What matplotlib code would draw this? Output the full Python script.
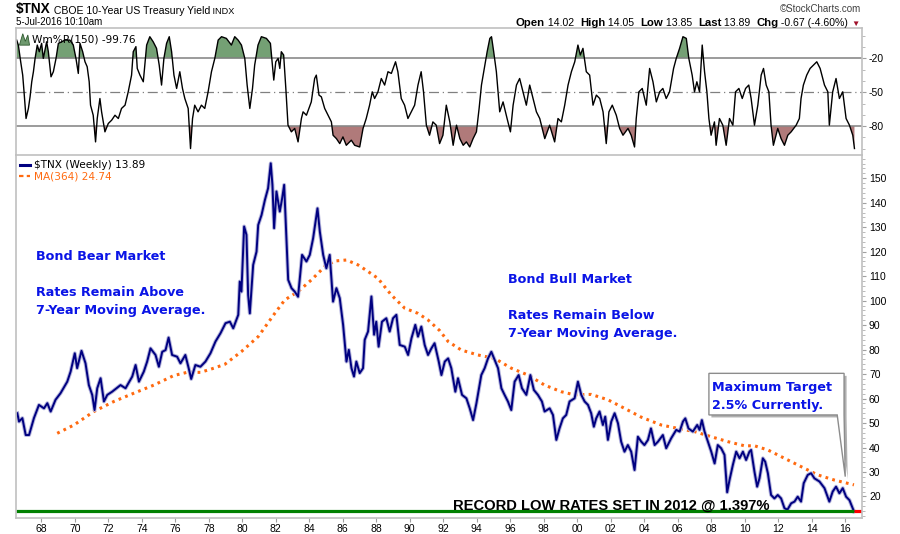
import matplotlib

matplotlib.use("Agg")
import matplotlib.pyplot as plt
import matplotlib.patheffects as pe
import matplotlib.transforms as mtransforms
import numpy as np
from matplotlib.patches import Polygon
from matplotlib.ticker import FixedLocator, MultipleLocator

# ---- data (year, value) ----
tnx_year = [
    1966.57, 1966.67, 1966.87, 1967.07, 1967.27, 1967.56, 1967.86, 1968.16, 1968.36, 1968.56,
    1968.85, 1969.15, 1969.55, 1969.75, 1970.00, 1970.14, 1970.40, 1970.64, 1970.84, 1971.04,
    1971.18, 1971.34, 1971.54, 1971.74, 1971.94, 1972.23, 1972.73, 1973.03, 1973.43, 1973.63,
    1973.83, 1974.12, 1974.32, 1974.52, 1974.82, 1975.02, 1975.22, 1975.42, 1975.60, 1975.81,
    1976.11, 1976.31, 1976.60, 1976.80, 1976.95, 1977.20, 1977.50, 1977.80, 1978.10, 1978.40,
    1978.70, 1979.00, 1979.26, 1979.46, 1979.76, 1979.85, 1979.95, 1980.11, 1980.25, 1980.35,
    1980.45, 1980.65, 1980.85, 1980.95, 1981.15, 1981.35, 1981.54, 1981.70, 1981.80, 1981.90,
    1982.04, 1982.24, 1982.38, 1982.50, 1982.64, 1982.74, 1982.94, 1983.13, 1983.33, 1983.57,
    1983.83, 1984.03, 1984.23, 1984.49, 1984.63, 1984.83, 1985.02, 1985.22, 1985.42, 1985.62,
    1985.82, 1986.02, 1986.22, 1986.36, 1986.52, 1986.67, 1986.81, 1987.01, 1987.21, 1987.31,
    1987.51, 1987.71, 1987.87, 1988.00, 1988.14, 1988.34, 1988.60, 1988.80, 1989.00, 1989.20,
    1989.40, 1989.70, 1989.90, 1990.10, 1990.33, 1990.49, 1990.69, 1990.89, 1991.09, 1991.29,
    1991.48, 1991.73, 1991.89, 1992.09, 1992.29, 1992.48, 1992.72, 1992.88, 1993.12, 1993.38,
    1993.58, 1993.78, 1993.98, 1994.27, 1994.47, 1994.67, 1994.87, 1995.07, 1995.27, 1995.47,
    1995.66, 1995.86, 1996.06, 1996.26, 1996.50, 1996.70, 1996.96, 1997.20, 1997.41, 1997.65,
    1997.89, 1998.05, 1998.35, 1998.55, 1998.75, 1998.94, 1999.14, 1999.34, 1999.54, 1999.84,
    2000.04, 2000.24, 2000.44, 2000.64, 2000.83, 2000.99, 2001.13, 2001.33, 2001.53, 2001.67,
    2001.83, 2002.03, 2002.23, 2002.43, 2002.62, 2002.82, 2003.02, 2003.22, 2003.42, 2003.62,
    2003.82, 2004.01, 2004.22, 2004.40, 2004.62, 2004.82, 2005.11, 2005.31, 2005.61, 2005.91,
    2006.11, 2006.31, 2006.45, 2006.64, 2006.90, 2007.16, 2007.30, 2007.44, 2007.60, 2007.80,
    2008.00, 2008.20, 2008.39, 2008.59, 2008.79, 2008.95, 2009.09, 2009.29, 2009.49, 2009.69,
    2009.89, 2010.08, 2010.28, 2010.38, 2010.58, 2010.74, 2010.88, 2011.08, 2011.22, 2011.38,
    2011.57, 2011.77, 2011.97, 2012.17, 2012.37, 2012.55, 2012.77, 2012.97, 2013.16, 2013.36,
    2013.52, 2013.76, 2013.96, 2014.16, 2014.46, 2014.76, 2015.05, 2015.25, 2015.45, 2015.65,
    2015.85, 2016.05, 2016.25, 2016.52,
]
tnx_value = [
    54.0, 50.6, 52.0, 45.1, 45.1, 52.0, 57.4, 56.0, 58.1, 54.7,
    59.5, 62.2, 66.9, 71.0, 78.5, 72.4, 79.5, 74.4, 65.5, 61.5,
    55.3, 64.2, 68.3, 58.8, 61.5, 62.8, 65.5, 64.2, 69.0, 73.7,
    66.9, 71.0, 75.1, 80.5, 77.8, 73.0, 79.1, 79.8, 84.9, 77.8,
    77.1, 74.4, 77.8, 72.4, 68.0, 73.7, 73.0, 75.1, 78.5, 83.3,
    86.7, 90.8, 91.4, 88.7, 94.2, 107.8, 103.7, 130.3, 126.9, 102.3,
    94.8, 114.6, 120.0, 130.9, 135.0, 141.1, 145.9, 156.1, 147.3, 129.6,
    144.6, 136.4, 141.8, 147.3, 124.1, 108.5, 105.1, 103.7, 101.6, 118.7,
    116.0, 118.7, 125.5, 137.7, 128.2, 118.7, 113.2, 118.7, 99.6, 105.1,
    101.0, 90.1, 75.1, 79.9, 72.4, 69.0, 75.1, 70.4, 72.4, 84.0,
    87.4, 101.7, 86.1, 91.4, 81.2, 91.4, 92.8, 87.4, 92.8, 94.2,
    81.9, 81.2, 77.8, 84.6, 90.1, 85.3, 89.4, 81.9, 77.8, 80.5,
    82.6, 75.1, 69.6, 75.1, 76.4, 72.4, 62.8, 68.3, 61.5, 60.1,
    56.0, 51.2, 58.1, 69.6, 72.4, 76.4, 79.1, 75.7, 72.4, 64.2,
    61.5, 58.8, 55.3, 66.9, 69.6, 64.2, 61.5, 69.6, 63.5, 61.5,
    58.8, 54.7, 56.0, 53.3, 43.1, 47.8, 51.9, 53.3, 58.8, 60.1,
    66.9, 61.5, 58.8, 57.4, 54.0, 48.5, 51.9, 54.7, 49.2, 52.6,
    43.1, 50.6, 54.0, 49.9, 42.4, 38.3, 41.0, 38.3, 30.8, 44.4,
    42.4, 41.0, 43.1, 47.8, 41.0, 42.4, 45.1, 39.7, 43.8, 47.2,
    46.5, 50.6, 51.9, 47.8, 46.5, 49.2, 47.2, 51.2, 46.5, 42.4,
    38.3, 33.5, 41.0, 39.7, 37.0, 21.7, 26.7, 32.9, 38.3, 35.6,
    38.3, 34.9, 38.3, 39.0, 30.1, 24.0, 27.4, 35.6, 34.2, 29.5,
    20.6, 19.2, 20.6, 19.2, 15.2, 14.6, 17.2, 17.9, 19.9, 17.9,
    25.4, 28.8, 29.5, 27.4, 26.1, 23.4, 17.9, 22.0, 24.0, 21.3,
    23.4, 19.9, 18.5, 13.89,
]

ma_year = [
    1968.95, 1969.95, 1971.14, 1972.33, 1973.53, 1974.72, 1975.91, 1976.70, 1977.50, 1978.30,
    1978.96, 1979.95, 1980.95, 1981.94, 1982.54, 1983.33, 1984.13, 1984.92, 1985.52, 1986.22,
    1986.91, 1987.51, 1988.10, 1988.90, 1989.70, 1990.49, 1991.09, 1991.78, 1992.29, 1993.08,
    1994.07, 1995.07, 1996.06, 1997.06, 1998.05, 1999.04, 1999.84, 2000.83, 2001.83, 2002.82,
    2003.82, 2005.01, 2006.01, 2007.00, 2008.00, 2008.99, 2009.98, 2010.58, 2011.38, 2012.37,
    2013.36, 2014.36, 2015.35, 2016.52,
]
ma_value = [
    45.8, 49.2, 54.7, 58.8, 62.2, 65.5, 69.4, 70.7, 70.7, 72.4,
    74.0, 79.2, 85.3, 94.8, 100.3, 103.7, 108.5, 113.9, 116.2, 116.6,
    114.6, 111.9, 109.1, 102.3, 96.9, 94.8, 92.1, 87.8, 83.3, 79.8,
    77.8, 76.4, 72.4, 69.6, 65.5, 62.8, 61.5, 61.7, 59.5, 56.0,
    52.4, 49.2, 47.8, 46.5, 44.4, 42.4, 40.7, 40.7, 39.0, 35.6,
    32.2, 28.8, 26.7, 24.74,
]

wr_year = [
    1966.53, 1966.63, 1966.77, 1966.89, 1966.97, 1967.09, 1967.23, 1967.33, 1967.43, 1967.53,
    1967.63, 1967.76, 1967.88, 1968.02, 1968.12, 1968.32, 1968.42, 1968.58, 1968.72, 1968.88,
    1969.02, 1969.22, 1969.41, 1969.71, 1969.91, 1970.07, 1970.21, 1970.31, 1970.47, 1970.61,
    1970.74, 1970.86, 1970.94, 1971.10, 1971.24, 1971.34, 1971.50, 1971.60, 1971.80, 1972.00,
    1972.20, 1972.40, 1972.60, 1972.79, 1973.00, 1973.19, 1973.39, 1973.49, 1973.65, 1973.73,
    1973.89, 1974.09, 1974.29, 1974.48, 1974.68, 1974.88, 1975.04, 1975.18, 1975.32, 1975.48,
    1975.64, 1975.78, 1975.92, 1976.08, 1976.27, 1976.43, 1976.57, 1976.77, 1976.91, 1977.03,
    1977.16, 1977.36, 1977.56, 1977.76, 1977.96, 1978.16, 1978.36, 1978.56, 1978.76, 1979.05,
    1979.35, 1979.55, 1979.75, 1979.95, 1980.15, 1980.29, 1980.45, 1980.61, 1980.74, 1980.94,
    1981.14, 1981.44, 1981.68, 1981.88, 1982.00, 1982.14, 1982.24, 1982.33, 1982.47, 1982.60,
    1982.73, 1982.93, 1983.13, 1983.33, 1983.53, 1983.63, 1983.83, 1984.12, 1984.32, 1984.42,
    1984.58, 1984.72, 1984.92, 1985.12, 1985.32, 1985.42, 1985.62, 1985.82, 1986.01, 1986.21,
    1986.51, 1986.71, 1987.01, 1987.21, 1987.40, 1987.60, 1987.76, 1987.90, 1988.10, 1988.30,
    1988.50, 1988.70, 1988.90, 1989.15, 1989.29, 1989.49, 1989.69, 1989.89, 1990.09, 1990.29,
    1990.49, 1990.68, 1990.82, 1990.99, 1991.18, 1991.38, 1991.58, 1991.78, 1991.98, 1992.18,
    1992.39, 1992.59, 1992.79, 1992.99, 1993.19, 1993.38, 1993.58, 1993.78, 1993.98, 1994.14,
    1994.28, 1994.48, 1994.62, 1994.78, 1994.88, 1995.01, 1995.17, 1995.37, 1995.57, 1995.81,
    1996.01, 1996.17, 1996.37, 1996.56, 1996.76, 1996.96, 1997.16, 1997.36, 1997.56, 1997.76,
    1998.06, 1998.35, 1998.65, 1998.85, 1999.05, 1999.25, 1999.45, 1999.65, 1999.85, 2000.04,
    2000.18, 2000.34, 2000.54, 2000.74, 2000.94, 2001.14, 2001.34, 2001.54, 2001.73, 2001.89,
    2002.09, 2002.33, 2002.53, 2002.73, 2003.03, 2003.22, 2003.42, 2003.52, 2003.68, 2003.88,
    2004.12, 2004.32, 2004.52, 2004.72, 2004.92, 2005.11, 2005.31, 2005.51, 2005.75, 2005.91,
    2006.11, 2006.31, 2006.51, 2006.66, 2006.86, 2007.00, 2007.14, 2007.30, 2007.46, 2007.60,
    2007.74, 2007.86, 2007.99, 2008.19, 2008.29, 2008.49, 2008.69, 2008.89, 2009.09, 2009.29,
    2009.45, 2009.65, 2009.85, 2010.05, 2010.24, 2010.38, 2010.58, 2010.78, 2010.98, 2011.12,
    2011.28, 2011.44, 2011.57, 2011.71, 2011.97, 2012.17, 2012.37, 2012.57, 2012.77, 2013.07,
    2013.26, 2013.36, 2013.50, 2013.70, 2013.90, 2014.10, 2014.30, 2014.50, 2014.76, 2014.96,
    2015.05, 2015.25, 2015.45, 2015.65, 2015.85, 2016.05, 2016.25, 2016.45, 2016.55,
]
wr_value = [
    -3.8, -8.2, -23.0, -34.8, -49.6, -73.2, -64.3, -54.0, -40.7, -31.8,
    -20.0, -8.2, -14.1, -6.7, -20.0, -5.3, -14.1, -36.3, -31.8, -20.0,
    -6.7, -5.3, -3.8, -3.8, -8.2, -20.0, -33.3, -6.7, -14.1, -23.0,
    -27.4, -40.7, -61.4, -70.3, -93.9, -73.2, -55.5, -67.3, -85.0, -77.6,
    -74.7, -70.3, -73.2, -64.3, -61.4, -49.6, -34.8, -14.1, -9.6, -28.9,
    -34.8, -40.7, -8.2, -0.8, -5.3, -11.1, -25.9, -43.6, -20.0, -6.7,
    -0.8, -14.1, -34.8, -46.6, -31.8, -46.6, -55.5, -64.3, -99.8, -73.2,
    -61.4, -67.3, -61.4, -64.3, -49.6, -31.8, -20.0, -3.8, -0.8, -2.3,
    -8.2, -0.8, -3.8, -8.2, -20.0, -43.6, -64.3, -46.6, -25.9, -8.2,
    -0.8, -2.3, -6.7, -39.2, -23.0, -20.0, -28.9, -14.1, -17.0, -46.6,
    -79.1, -85.0, -82.0, -93.9, -73.2, -67.3, -70.3, -58.5, -37.8, -34.8,
    -52.5, -54.0, -64.3, -70.3, -76.2, -88.0, -91.0, -95.4, -89.5, -96.9,
    -92.4, -96.9, -98.4, -82.0, -73.2, -61.4, -49.6, -55.5, -49.6, -37.8,
    -43.6, -31.8, -33.3, -23.0, -31.8, -55.5, -61.4, -73.2, -67.3, -61.4,
    -43.6, -31.8, -49.6, -79.1, -88.0, -76.2, -79.1, -95.4, -88.0, -61.4,
    -76.2, -96.9, -79.1, -91.0, -96.9, -93.9, -98.4, -91.0, -85.0, -64.3,
    -43.6, -25.9, -14.1, -2.3, -0.8, -14.1, -31.8, -67.3, -58.5, -73.2,
    -85.0, -61.4, -43.6, -37.8, -49.6, -61.4, -43.6, -55.5, -67.3, -73.2,
    -91.0, -79.1, -93.9, -73.2, -76.2, -61.4, -43.6, -31.8, -23.0, -8.2,
    -17.0, -11.1, -31.8, -34.8, -61.4, -52.5, -55.5, -67.3, -95.4, -67.3,
    -61.4, -70.3, -82.0, -88.0, -82.0, -88.0, -98.4, -73.2, -49.6, -46.6,
    -61.4, -28.9, -40.7, -58.5, -49.6, -46.6, -55.5, -49.6, -28.9, -20.0,
    -11.1, -0.8, -2.3, -20.0, -34.8, -49.6, -40.7, -49.6, -8.2, -31.8,
    -49.6, -73.2, -88.0, -76.2, -96.9, -73.2, -79.1, -96.9, -73.2, -79.1,
    -49.6, -46.6, -55.5, -46.6, -43.6, -55.5, -79.1, -61.4, -34.8, -28.9,
    -43.6, -49.6, -79.1, -96.9, -82.0, -91.0, -96.9, -88.0, -85.0, -79.1,
    -73.2, -55.5, -43.6, -34.8, -28.9, -25.9, -23.0, -28.9, -43.6, -49.6,
    -79.1, -49.6, -37.8, -55.5, -49.6, -73.2, -79.1, -88.0, -99.76,
]

record_low = 13.97
year_ticks = list(range(1968, 2017, 2))
price_ticks = list(range(20, 151, 10))
wr_levels = [-20, -50, -80]

W, H = 900, 534


def fx(px):
    return px / W


def fy(py):
    return 1 - py / H


fig = plt.figure(figsize=(9, 5.34), dpi=100)
fig.patch.set_facecolor("white")

left, right = 16, 862
ax_wr = fig.add_axes([fx(left), fy(155), fx(right) - fx(left), fy(28) - fy(155)])
ax = fig.add_axes([fx(left), fy(518), fx(right) - fx(left), fy(155) - fy(518)])

spine_col = "#c0c0c0"
for a in (ax, ax_wr):
    a.set_xlim(1966.49, 2017.0)
    for s in a.spines.values():
        s.set_color(spine_col)
        s.set_linewidth(1.2)
    a.yaxis.tick_right()
    a.tick_params(axis="y", which="major", length=3, color="#a0a0a0", labelsize=7.5,
                  pad=2, labelcolor="black")
    a.tick_params(axis="y", which="minor", length=2, color="#b0b0b0")
ax_wr.spines["bottom"].set_visible(False)

# ---- Williams %R panel ----
wy = np.array(wr_year)
wv = np.array(wr_value)
ax_wr.set_ylim(-105.5, 6.9)
ax_wr.fill_between(wy, wv, -20, where=wv > -20, interpolate=True, color="#74a074", lw=0)
ax_wr.fill_between(wy, wv, -80, where=wv < -80, interpolate=True, color="#b07a7a", lw=0)
ax_wr.axhline(-20, color="#808080", lw=1.1)
ax_wr.axhline(-80, color="#808080", lw=1.1)
ax_wr.axhline(-50, color="#808080", lw=0.9, ls=(0, (8, 3, 1, 3)))
ax_wr.plot(wy, wv, color="black", lw=1.0)
ax_wr.yaxis.set_major_locator(FixedLocator(wr_levels))
ax_wr.yaxis.set_minor_locator(MultipleLocator(10))
ax_wr.set_xticks([])
ax_wr.set_yticklabels([str(v) for v in wr_levels], family="Liberation Sans", fontsize=7.5)
ax_wr.text(0.019, 0.91, "Wm%R(150) -99.76", transform=ax_wr.transAxes,
           fontsize=7.6, family="DejaVu Sans", color="black", va="center", zorder=6)
ax_wr.add_patch(Polygon([[0.004, 0.865], [0.008, 0.955], [0.011, 0.895], [0.014, 0.945],
                         [0.016, 0.865]], closed=True, transform=ax_wr.transAxes,
                        facecolor="#6f9a6f", edgecolor="#2f5a2f", lw=0.6, zorder=6))

# ---- main price panel ----
ax.set_ylim(11.2, 159.5)
ax.plot(ma_year, ma_value, color="#ff6a10", lw=2.2, ls=(0, (0.9, 1.4)))
ax.plot(tnx_year, tnx_value, color="#000080", lw=1.4,
        path_effects=[pe.Stroke(linewidth=2.8, foreground="#b4b4dc"), pe.Normal()])
ax.hlines(record_low, 1966.49, tnx_year[-1], color="#008000", lw=2.3)
ax.hlines(record_low, tnx_year[-1], 2017.0, color="#ff0000", lw=2.3)

ax.yaxis.set_major_locator(FixedLocator(price_ticks))
ax.yaxis.set_minor_locator(MultipleLocator(2))
ax.set_yticklabels([str(v) for v in price_ticks], family="Liberation Sans", fontsize=7.5)
ax.xaxis.set_major_locator(FixedLocator(year_ticks))
ax.set_xticklabels([f"{y % 100:02d}" for y in year_ticks], family="Liberation Sans",
                   fontsize=7.5)
ax.tick_params(axis="x", length=3, color="#a0a0a0", pad=1.0)

# legend
ax.plot([0.005, 0.016], [0.972, 0.972], transform=ax.transAxes, color="#000080", lw=2.2)
ax.text(0.0215, 0.972, "$TNX (Weekly) 13.89", transform=ax.transAxes, fontsize=7.6,
        family="DejaVu Sans", va="center")
ax.plot([0.004, 0.017], [0.942, 0.942], transform=ax.transAxes, color="#ff6a10", lw=1.6,
        ls=(0, (2, 1.5)))
ax.text(0.0215, 0.942, "MA(364) 24.74", transform=ax.transAxes, fontsize=7.6,
        family="DejaVu Sans", va="center", color="#ff6a10")

blue = "#0a14e6"
bkw = dict(fontsize=9.2, family="DejaVu Sans", fontweight="bold", color=blue, va="baseline")
ax.text(1967.68, 116.6, "Bond Bear Market", **bkw)
ax.text(1967.68, 101.9, "Rates Remain Above", **bkw)
ax.text(1967.68, 94.6, "7-Year Moving Average.", **bkw)
ax.text(1995.87, 107.1, "Bond Bull Market", **bkw)
ax.text(1995.87, 92.5, "Rates Remain Below", **bkw)
ax.text(1995.87, 85.3, "7-Year Moving Average.", **bkw)

# callout box with pointer
bx0, bx1, by0, by1 = 2007.86, 2015.93, 53.3, 70.3
tip = (2016.0, 28.1)
call = [[bx0, by1], [bx1, by1], [bx1, by0], list(tip), [2015.52, by0], [bx0, by0]]
shadow_tr = mtransforms.offset_copy(ax.transData, fig=fig, x=2.5, y=-2.5, units="dots")
ax.add_patch(Polygon(call, closed=True, facecolor="#b0b0b0", edgecolor="none",
                     transform=shadow_tr, zorder=4))
ax.add_patch(Polygon(call, closed=True, facecolor="white", edgecolor="#8c8c8c", lw=1.0,
                     zorder=5))
ax.text(2008.06, 63.1, "Maximum Target", zorder=6, **bkw)
ax.text(2008.06, 55.6, "2.5% Currently.", zorder=6, **bkw)

ax.text(1992.56, 14.7, "RECORD LOW RATES SET IN 2012 @ 1.397%", fontsize=10.6,
        family="Liberation Sans", fontweight="bold", color="black", va="baseline", zorder=6)

# ---- header ----
renderer = fig.canvas.get_renderer()


def run_text(px, py, parts):
    x = px
    for s, size, weight, color in parts:
        t = fig.text(fx(x), fy(py), s, fontsize=size, fontweight=weight, color=color,
                     family=["Liberation Sans", "DejaVu Sans"], va="baseline")
        x += t.get_window_extent(renderer).width


run_text(16, 13.5, [("$TNX", 9.8, "bold", "black"),
                    (" CBOE 10-Year US Treasury Yield", 7.6, "normal", "black"),
                    (" INDX", 6.6, "normal", "black")])
run_text(16, 25, [("5-Jul-2016 10:10am", 7.0, "normal", "black")])
run_text(516, 26, [("Open", 8.2, "bold", "black"), (" 14.02  ", 7.6, "normal", "black"),
                   ("High", 8.2, "bold", "black"), (" 14.05  ", 7.6, "normal", "black"),
                   ("Low", 8.2, "bold", "black"), (" 13.85  ", 7.6, "normal", "black"),
                   ("Last", 8.2, "bold", "black"), (" 13.89  ", 7.6, "normal", "black"),
                   ("Chg", 8.2, "bold", "black"), (" -0.67 (-4.60%) ", 7.6, "normal", "black"),
                   ("\u25bc", 6.0, "normal", "#a0102a")])
fig.text(fx(861), fy(12), "\u00a9StockCharts.com", fontsize=7.0, color="#404040",
         family="Liberation Sans", ha="right", va="baseline")

fig.savefig("out.png", dpi=100, facecolor="white")
